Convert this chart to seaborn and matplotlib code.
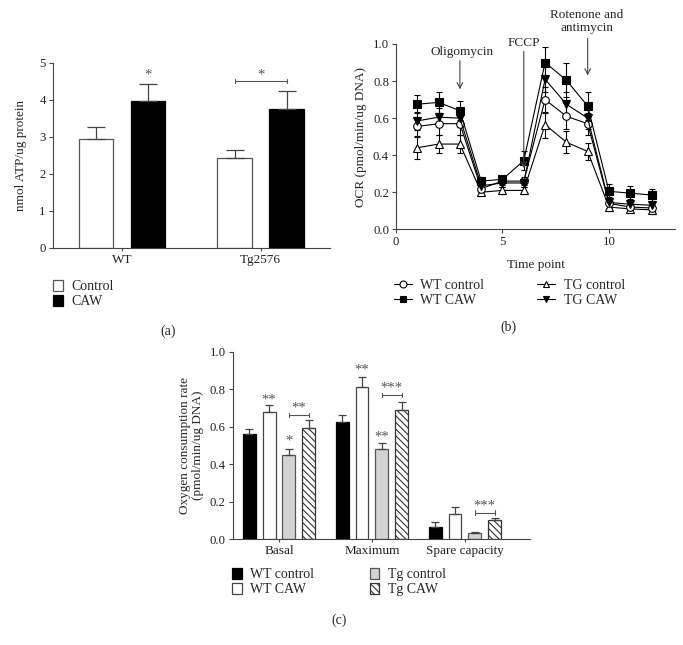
import numpy as np
import pandas as pd
import matplotlib
matplotlib.use("Agg")
import matplotlib.pyplot as plt
from matplotlib.patches import Patch
from matplotlib.lines import Line2D
import seaborn as sns

# ---------------- data ----------------
# Panel (a)
a_groups = ["WT", "Tg2576"]
a_treat = ["Control", "CAW"]
a_vals = {"Control": [2.95, 2.43], "CAW": [3.98, 3.75]}
a_errs = {"Control": [0.32, 0.22], "CAW": [0.44, 0.48]}

# Panel (b)
b_time = [1, 2, 3, 4, 5, 6, 7, 8, 9, 10, 11, 12]
b_series = ["WT control", "WT CAW", "TG control", "TG CAW"]
b_wt_control = [0.555, 0.57, 0.57, 0.22, 0.26, 0.26, 0.70, 0.61, 0.57, 0.14, 0.12, 0.115]
b_wt_caw = [0.675, 0.685, 0.64, 0.26, 0.27, 0.37, 0.90, 0.805, 0.665, 0.205, 0.195, 0.185]
b_tg_control = [0.44, 0.46, 0.46, 0.20, 0.21, 0.21, 0.565, 0.47, 0.42, 0.12, 0.11, 0.105]
b_tg_caw = [0.585, 0.605, 0.60, 0.235, 0.25, 0.25, 0.81, 0.675, 0.60, 0.145, 0.135, 0.13]
b_wt_control_err = [0.05, 0.06, 0.06, 0.02, 0.02, 0.02, 0.07, 0.07, 0.06, 0.03, 0.025, 0.025]
b_wt_caw_err = [0.05, 0.055, 0.05, 0.02, 0.02, 0.05, 0.085, 0.09, 0.075, 0.04, 0.04, 0.035]
b_tg_control_err = [0.06, 0.05, 0.05, 0.02, 0.02, 0.02, 0.07, 0.06, 0.045, 0.02, 0.02, 0.02]
b_tg_caw_err = [0.05, 0.05, 0.05, 0.02, 0.02, 0.02, 0.07, 0.065, 0.06, 0.03, 0.03, 0.025]

# Panel (c)
c_cats = ["Basal", "Maximum", "Spare capacity"]
c_groups = ["WT control", "WT CAW", "Tg control", "Tg CAW"]
c_vals = {
    "WT control": [0.56, 0.625, 0.065],
    "WT CAW": [0.68, 0.815, 0.135],
    "Tg control": [0.45, 0.48, 0.03],
    "Tg CAW": [0.595, 0.69, 0.10],
}
c_errs = {
    "WT control": [0.03, 0.04, 0.025],
    "WT CAW": [0.035, 0.05, 0.035],
    "Tg control": [0.03, 0.035, 0.01],
    "Tg CAW": [0.04, 0.045, 0.012],
}

# ---------------- style ----------------
sns.set_theme(style="ticks")
plt.rcParams["font.family"] = ["Liberation Serif", "DejaVu Serif"]
plt.rcParams["hatch.linewidth"] = 0.8
SP = "#444444"
GREY_TXT = "#555555"
TICK_FS = 9.2
LAB_FS = 9.5
LEG_FS = 10

fig = plt.figure(figsize=(6.83, 6.45), dpi=100)
W, H = 683.0, 645.0


def ax_px(l, r, t, b):
    return fig.add_axes([l / W, 1 - b / H, (r - l) / W, (b - t) / H])


def style_ax(ax):
    sns.despine(ax=ax)
    for s in ["left", "bottom"]:
        ax.spines[s].set_color(SP)
        ax.spines[s].set_linewidth(0.8)
    ax.tick_params(axis="both", direction="out", length=3, width=0.8, color=SP,
                   labelsize=TICK_FS, pad=2, labelcolor="#222222")


def bracket(ax, x1, x2, y, txt, dy):
    ax.plot([x1, x2], [y, y], color=GREY_TXT, lw=0.8)
    ax.plot([x1, x1], [y - dy, y + dy], color=GREY_TXT, lw=0.8)
    ax.plot([x2, x2], [y - dy, y + dy], color=GREY_TXT, lw=0.8)
    ax.text((x1 + x2) / 2, y, txt, ha="center", va="bottom", fontsize=10.5, color=GREY_TXT)


# ---------------- panel (a) ----------------
ax_a = ax_px(52.7, 330, 62.7, 248)
df_a = pd.DataFrame({
    "group": [g for t in a_treat for g in a_groups],
    "treat": [t for t in a_treat for g in a_groups],
    "val": [v for t in a_treat for v in a_vals[t]],
})
sns.barplot(data=df_a, x="group", y="val", hue="treat", order=a_groups, hue_order=a_treat,
            palette={"Control": "white", "CAW": "black"}, width=0.75, gap=0.33,
            errorbar=None, legend=False, linewidth=0.9, edgecolor="#555555", ax=ax_a)
a_centers = {}
for cont, t in zip(ax_a.containers, a_treat):
    for bar, e, g in zip(cont, a_errs[t], a_groups):
        if t == "CAW":
            bar.set_edgecolor("black")
        xc = bar.get_x() + bar.get_width() / 2
        a_centers[(g, t)] = xc
        ax_a.errorbar(xc, bar.get_height(), yerr=[[0], [e]], fmt="none", ecolor="#444444",
                      elinewidth=0.9, capsize=6.5, capthick=0.9, zorder=1)
ax_a.set_xlim(-0.5, 1.5)
ax_a.set_ylim(0, 5)
ax_a.set_yticks([0, 1, 2, 3, 4, 5])
ax_a.set_xlabel("")
ax_a.set_ylabel("nmol ATP/ug protein", fontsize=LAB_FS, labelpad=9)
style_ax(ax_a)
ax_a.tick_params(axis="x", length=2, labelsize=LAB_FS)
ax_a.text(a_centers[("WT", "CAW")], 4.68, "*", ha="center", va="center", fontsize=10.5, color=GREY_TXT)
bracket(ax_a, a_centers[("Tg2576", "Control")], a_centers[("Tg2576", "CAW")], 4.5, "*", 0.06)

fig.legend(handles=[Patch(facecolor="white", edgecolor="#555555", lw=0.9),
                    Patch(facecolor="black", edgecolor="black", lw=0.9)],
           labels=a_treat, loc="upper left", bbox_to_anchor=(53 / W, 1 - 280 / H),
           frameon=False, fontsize=LEG_FS, handlelength=0.7, handleheight=0.8,
           handletextpad=0.6, labelspacing=0.15, borderpad=0, borderaxespad=0)
fig.text(168 / W, 1 - 331 / H, "(a)", ha="center", va="center", fontsize=LEG_FS)

# ---------------- panel (b) ----------------
ax_b = ax_px(396, 675, 44, 229.3)
b_vals = [b_wt_control, b_wt_caw, b_tg_control, b_tg_caw]
b_errs = [b_wt_control_err, b_wt_caw_err, b_tg_control_err, b_tg_caw_err]
b_marker = ["o", "s", "^", "v"]
b_face = ["white", "black", "white", "black"]
order_draw = [2, 0, 3, 1]
for i in order_draw:
    ax_b.errorbar(b_time, b_vals[i], yerr=b_errs[i], fmt="none", ecolor="black",
                  elinewidth=0.8, capsize=2.5, capthick=0.8, zorder=2)
    sns.lineplot(x=b_time, y=b_vals[i], color="black", linewidth=0.8, marker=b_marker[i],
                 markersize=5.5, markerfacecolor=b_face[i], markeredgecolor="black",
                 markeredgewidth=0.8, ax=ax_b, zorder=3)
ax_b.set_xlim(0, 13.1)
ax_b.set_ylim(0, 1.0)
ax_b.set_xticks([0, 5, 10])
ax_b.set_yticks([0.0, 0.2, 0.4, 0.6, 0.8, 1.0])
ax_b.set_yticklabels(["0.0", "0.2", "0.4", "0.6", "0.8", "1.0"])
ax_b.set_xlabel("Time point", fontsize=LAB_FS, labelpad=8)
ax_b.set_ylabel("OCR (pmol/min/ug DNA)", fontsize=LAB_FS, labelpad=4)
style_ax(ax_b)
arrow_kw = dict(arrowstyle="->", color="#444444", lw=0.8, mutation_scale=10)
ax_b.annotate("", xy=(3, 0.74), xytext=(3, 0.925), arrowprops=arrow_kw, annotation_clip=False)
ax_b.text(3.1, 0.955, "Oligomycin", ha="center", va="center", fontsize=LAB_FS)
ax_b.annotate("", xy=(6, 0.315), xytext=(6, 0.975), arrowprops=arrow_kw, annotation_clip=False)
ax_b.text(6.0, 1.005, "FCCP", ha="center", va="center", fontsize=LAB_FS, clip_on=False)
ax_b.annotate("", xy=(9, 0.815), xytext=(9, 1.045), arrowprops=arrow_kw, annotation_clip=False)
ax_b.text(8.97, 1.12, "Rotenone and\nantimycin", ha="center", va="center", fontsize=LAB_FS,
          linespacing=1.1, clip_on=False)

b_handles = [Line2D([0], [0], color="black", lw=0.8, marker=m, markersize=5,
                    markerfacecolor=f, markeredgecolor="black", markeredgewidth=0.8)
             for m, f in zip(b_marker, b_face)]
fig.legend(handles=[b_handles[0], b_handles[1], b_handles[2], b_handles[3]],
           labels=b_series, ncol=2, loc="upper left", bbox_to_anchor=(394 / W, 1 - 279 / H),
           frameon=False, fontsize=LEG_FS, handlelength=1.3, handletextpad=0.6,
           labelspacing=0.15, columnspacing=3.8, borderpad=0, borderaxespad=0)
fig.text(508 / W, 1 - 327 / H, "(b)", ha="center", va="center", fontsize=LEG_FS)

# ---------------- panel (c) ----------------
ax_c = ax_px(232.5, 530, 352, 539)
df_c = pd.DataFrame({
    "cat": [c for g in c_groups for c in c_cats],
    "grp": [g for g in c_groups for c in c_cats],
    "val": [v for g in c_groups for v in c_vals[g]],
})
c_face = {"WT control": "black", "WT CAW": "white", "Tg control": "#d3d3d3", "Tg CAW": "white"}
c_edge = {"WT control": "black", "WT CAW": "#444444", "Tg control": "#555555", "Tg CAW": "#333333"}
sns.barplot(data=df_c, x="cat", y="val", hue="grp", order=c_cats, hue_order=c_groups,
            palette=c_face, width=0.855, gap=0.35, errorbar=None, legend=False,
            linewidth=0.9, edgecolor="black", ax=ax_c)
c_centers = {}
for cont, g in zip(ax_c.containers, c_groups):
    for bar, e, c in zip(cont, c_errs[g], c_cats):
        bar.set_edgecolor(c_edge[g])
        if g == "Tg CAW":
            bar.set_hatch("\\\\\\\\\\")
        xc = bar.get_x() + bar.get_width() / 2
        c_centers[(c, g)] = xc
        ax_c.errorbar(xc, bar.get_height(), yerr=[[0], [e]], fmt="none", ecolor="#444444",
                      elinewidth=0.9, capsize=3, capthick=0.9, zorder=1)
ax_c.set_xlim(-0.5, 2.7)
ax_c.set_ylim(0, 1.0)
ax_c.set_yticks([0.0, 0.2, 0.4, 0.6, 0.8, 1.0])
ax_c.set_yticklabels(["0.0", "0.2", "0.4", "0.6", "0.8", "1.0"])
ax_c.set_xlabel("")
ax_c.set_ylabel("Oxygen consumption rate\n(pmol/min/ug DNA)", fontsize=LAB_FS, labelpad=4,
                linespacing=1.1)
style_ax(ax_c)
ax_c.tick_params(axis="x", length=2, labelsize=LAB_FS)

def star(cat, grp, y, txt):
    ax_c.text(c_centers[(cat, grp)], y, txt, ha="center", va="center", fontsize=10.5, color=GREY_TXT)

star("Basal", "WT CAW", 0.745, "**")
star("Basal", "Tg control", 0.525, "*")
star("Maximum", "WT CAW", 0.905, "**")
star("Maximum", "Tg control", 0.545, "**")
bracket(ax_c, c_centers[("Basal", "Tg control")], c_centers[("Basal", "Tg CAW")], 0.664, "**", 0.012)
bracket(ax_c, c_centers[("Maximum", "Tg control")], c_centers[("Maximum", "Tg CAW")], 0.771, "***", 0.012)
bracket(ax_c, c_centers[("Spare capacity", "Tg control")], c_centers[("Spare capacity", "Tg CAW")], 0.141, "***", 0.012)

c_handles = [Patch(facecolor=c_face[g], edgecolor=c_edge[g], lw=0.9,
                   hatch=("\\\\\\\\\\" if g == "Tg CAW" else None)) for g in c_groups]
fig.legend(handles=c_handles, labels=c_groups, ncol=2, loc="upper left",
           bbox_to_anchor=(232 / W, 1 - 568 / H), frameon=False, fontsize=LEG_FS,
           handlelength=0.7, handleheight=0.8, handletextpad=0.6, labelspacing=0.15,
           columnspacing=4.0, borderpad=0, borderaxespad=0)
fig.text(339 / W, 1 - 620 / H, "(c)", ha="center", va="center", fontsize=LEG_FS)

fig.savefig("out.png", dpi=100)
